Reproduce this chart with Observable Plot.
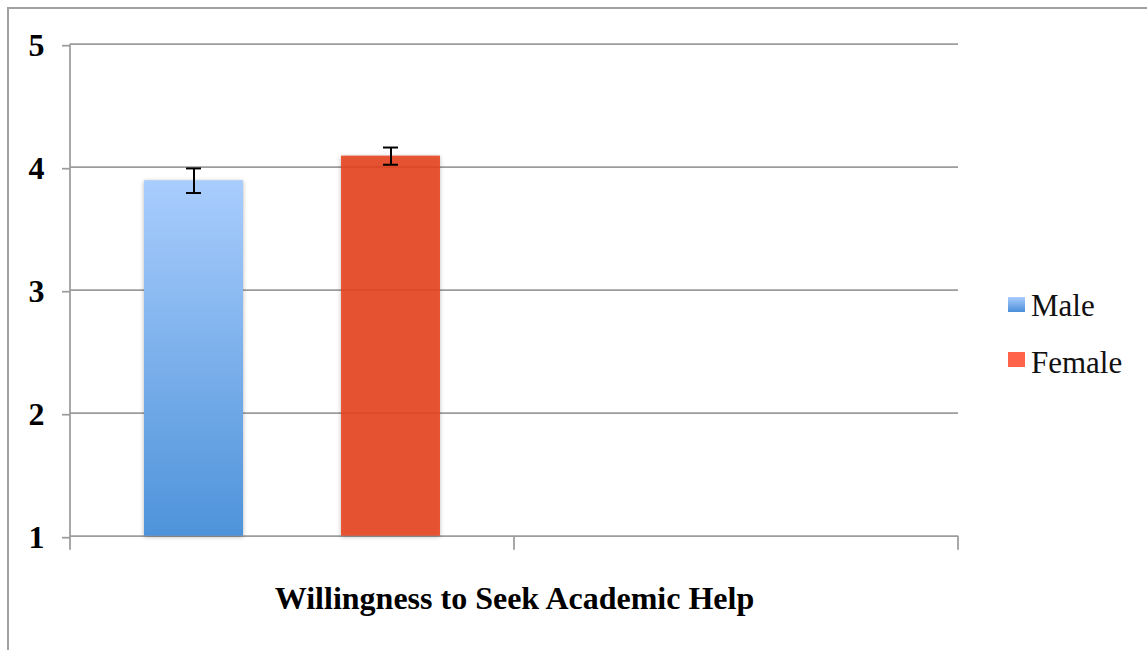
<!DOCTYPE html>
<html><head><meta charset="utf-8">
<script src="https://cdn.jsdelivr.net/npm/d3@7"></script>
<script src="https://cdn.jsdelivr.net/npm/@observablehq/plot@0.6"></script>
<style>
html,body{margin:0;padding:0;background:#fff;}
#wrap{position:relative;width:1147px;height:650px;overflow:hidden;}
#border{position:absolute;left:7px;top:7px;width:1200px;height:700px;border-top:2px solid #a0a0a0;border-left:2px solid #a0a0a0;}
#chart{position:absolute;left:0;top:0;}
#legend{position:absolute;left:0;top:0;pointer-events:none;}
#chart g[aria-label="bar"]{filter:drop-shadow(0px 1px 2px rgba(0,0,0,0.3));}
</style></head><body>
<div id="wrap"><div id="border"></div><div id="chart"></div></div>
<script>
// ---- data ----
const series = ["Male", "Female"];
const means = [3.89, 4.09];
const errLow = [3.79, 4.02];
const errHigh = [3.99, 4.16];
const yTicks = [1, 2, 3, 4, 5];
const axisTitle = "Willingness to Seek Academic Help";
const categoryCount = 2; // category slots on the horizontal axis (only the first one holds data)

// ---- styles ----
const maleFill = "url(#maleGrad)";
const femaleFill = "#E9431F";
const femaleOpacity = 0.88;
const legendFills = ["url(#maleSwatch)", "#FF644A"];
const gridColor = "#9c9c9c";
const serif = "'Liberation Serif','Times New Roman',Times,serif";

const W = 1147, H = 650, mL = 70, mR = 189, mT = 43.7, mB = 114.3;
const frameW = W - mL - mR;

const table = series.map((s, i) => ({
  series: s, mean: means[i], lo: errLow[i], hi: errHigh[i], base: yTicks[0]
}));

function decorations(index, scales) {
  const g = d3.create("svg:g");
  const yb = scales && scales.y ? scales.y(yTicks[0]) : H - mB;
  const yt = scales && scales.y ? scales.y(yTicks[yTicks.length - 1]) : mT;
  g.append("line").attr("x1", mL).attr("x2", mL).attr("y1", yt).attr("y2", yb + 14)
    .attr("stroke", gridColor).attr("stroke-width", 1.75);
  for (let k = 1; k <= categoryCount; k++) {
    const x = mL + k * frameW / categoryCount;
    g.append("line").attr("x1", x).attr("x2", x).attr("y1", yb).attr("y2", yb + 14)
      .attr("stroke", gridColor).attr("stroke-width", 1.75);
  }
  return g.node();
}

const chart = Plot.plot({
  width: W, height: H,
  marginLeft: mL, marginRight: mR, marginTop: mT, marginBottom: mB,
  style: {background: "transparent", overflow: "visible"},
  x: {type: "band", domain: series, range: [mL, mL + frameW / categoryCount],
      paddingInner: 0.495, paddingOuter: 0.3744, axis: null},
  y: {domain: [yTicks[0], yTicks[yTicks.length - 1]], axis: null},
  marks: [
    Plot.ruleY(yTicks, {stroke: gridColor, strokeWidth: 1.75}),
    Plot.axisY({ticks: yTicks, tickSize: 8, tickPadding: 18, stroke: gridColor, strokeWidth: 1.75,
      fill: "black", fontSize: 32, fontWeight: "bold", fontFamily: serif, dy: 1.5,
      tickFormat: d3.format("d"), label: null}),
    Plot.barY(table.filter(d => d.series === series[0]), {x: "series", y1: "base", y2: "mean", fill: maleFill}),
    Plot.barY(table.filter(d => d.series === series[1]), {x: "series", y1: "base", y2: "mean", fill: femaleFill, fillOpacity: femaleOpacity}),
    Plot.ruleX(table, {x: "series", y1: "lo", y2: "hi", stroke: "black", strokeWidth: 2}),
    Plot.tickY(table, {x: "series", y: "lo", insetLeft: 42, insetRight: 42, stroke: "black", strokeWidth: 2}),
    Plot.tickY(table, {x: "series", y: "hi", insetLeft: 42, insetRight: 42, stroke: "black", strokeWidth: 2}),
    decorations,
    Plot.text([axisTitle], {text: d => d, frameAnchor: "bottom", lineAnchor: "bottom", dy: 73,
      fontSize: 32, fontWeight: "bold", fontFamily: serif, fill: "black"})
  ]
});

const svg = d3.select(chart);
const defs = svg.insert("defs", ":first-child");
const mg = defs.append("linearGradient").attr("id", "maleGrad").attr("x1", 0).attr("y1", 0).attr("x2", 0).attr("y2", 1);
mg.append("stop").attr("offset", "0%").attr("stop-color", "#A9CDFD");
mg.append("stop").attr("offset", "100%").attr("stop-color", "#4E93DA");

document.getElementById("chart").appendChild(chart);

// legend (right side)
const lg = d3.select("#wrap").append("svg").attr("id", "legend").attr("width", W).attr("height", H);
const ld = lg.append("defs").append("linearGradient").attr("id", "maleSwatch").attr("x1", 0).attr("y1", 0).attr("x2", 0).attr("y2", 1);
ld.append("stop").attr("offset", "0%").attr("stop-color", "#A9CDFD");
ld.append("stop").attr("offset", "100%").attr("stop-color", "#4A8ED8");
const legendTops = [297, 352];
const legendBase = [316, 373];
series.forEach((s, i) => {
  lg.append("rect").attr("x", 1008).attr("y", legendTops[i]).attr("width", 17).attr("height", 15)
    .attr("fill", legendFills[i]);
  lg.append("text").attr("x", 1031).attr("y", legendBase[i]).attr("font-family", serif)
    .attr("font-size", 31).attr("fill", "#111").text(s);
});
</script>
</body></html>
